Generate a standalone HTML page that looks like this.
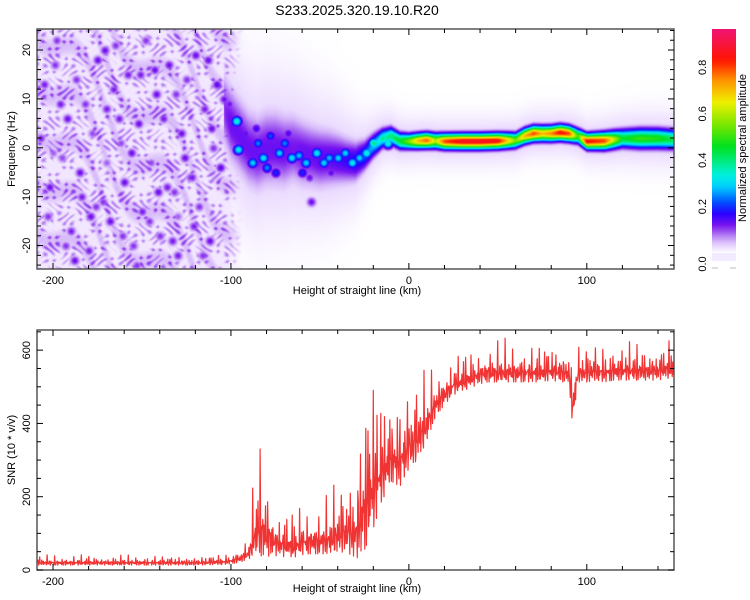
<!DOCTYPE html>
<html><head><meta charset="utf-8"><style>
body{margin:0;background:#fff;width:750px;height:600px;overflow:hidden;font-family:"Liberation Sans",sans-serif}
#wrap{position:relative;width:750px;height:600px}
canvas{position:absolute}
svg{position:absolute;left:0;top:0}
text{font-family:"Liberation Sans",sans-serif;fill:#000}
</style></head><body>
<div id="wrap">
<canvas id="hm" width="637" height="240" style="left:37px;top:29px"></canvas>
<svg id="sv" width="750" height="600"></svg>
</div>
<script>
// ---- data ----
const xDomain=[-209,149];
const fDomain=[-24.8,24.3];
const snrDomain=[0,655];
const xTicks=[-200,-100,0,100];
const fTicks=[-20,-10,0,10,20];
const snrTicks=[0,200,400,600];
const cbTicks=[0.0,0.2,0.4,0.6,0.8];
const ridgeH=[-105,-100,-95,-90,-85,-80,-75,-70,-65,-60,-55,-50,-45,-40,-35,-30,-25,-20,-15,-10,-5,0,5,10,15,20,30,40,50,60,65,70,75,80,85,90,95,100,110,120,130,140,150];
const ridgeF=[9,5,2.5,0,-1,0,0,-0.5,0,-1,-1.5,-2,-2,-2.2,-2.5,-2.7,-1.5,0.5,2,2.5,1.5,1.4,1.5,1.6,1.5,1.4,1.4,1.4,1.5,1.6,2.5,3,3,3,3.2,3,2.5,1.4,1.5,2,2,2,1.8];
const ridgeA=[0.1,0.13,0.13,0.13,0.13,0.13,0.13,0.13,0.12,0.13,0.13,0.14,0.14,0.15,0.16,0.18,0.22,0.28,0.35,0.4,0.45,0.55,0.7,0.78,0.6,0.8,0.88,0.88,0.86,0.55,0.7,0.8,0.7,0.75,0.85,0.8,0.5,0.85,0.8,0.45,0.5,0.48,0.42];
const ridgeW=[5,5,5,5,5,5,5,4.8,4.6,4.4,4.2,4,3.8,3.4,3,2.6,2,1.6,1.3,1.2,1.1,1,1,1,1,1,1,1,1,1,1,1,1,1,1,1,1,1,1.1,1.2,1.3,1.3,1.3];
const spotH=[-97,-96,-88,-85,-82,-78,-73,-70,-66,-62,-58,-52,-48,-45,-40,-36,-32,-28,-24,-20,-15,-12,-75,-80,-60,-92,-86,-68,-56,-44];
const spotF=[5.5,-0.3,-3,1,-2,2.5,-1,1,-2,-1.5,-3,-1,-3,-2,-2,-1,-3,-2,-1,1,2,1,-5,-4,-5,3,4,3,-6,-5];
const spotA=[0.35,0.33,0.3,0.25,0.32,0.22,0.3,0.25,0.32,0.28,0.3,0.33,0.3,0.28,0.3,0.3,0.33,0.3,0.35,0.4,0.4,0.35,0.2,0.25,0.2,0.14,0.16,0.15,0.13,0.14];
const noiseH=[-205,-202,-198,-195,-192,-190,-187,-185,-182,-180,-178,-175,-172,-170,-168,-165,-162,-160,-158,-155,-152,-150,-148,-145,-142,-140,-138,-135,-132,-130,-128,-125,-122,-120,-118,-115,-112,-110,-108,-106,-203,-196,-188,-176,-166,-156,-146,-136,-126,-116,-199,-184,-171,-161,-151,-141,-131,-121,-111,-104,-207,-193,-179,-163,-153,-143,-133,-123,-113,-101,-55,-40,-130,-200,-170];
const noiseF=[13,-8,22,-2,6,-17,14,-5,9,-21,3,18,-11,8,-15,21,1,-7,15,-20,5,-13,22,-3,11,-18,6,17,-9,-22,3,14,-6,19,-12,8,-19,0,13,-4,-14,9,-23,-12,12,-1,-15,-8,-2,-22,17,-10,20,-18,15,-9,11,-16,4,10,2,-20,-14,6,-24,16,-19,-6,18,9,-11,-5,-14,-1,-3];
const noiseA=[0.11,0.12,0.1,0.09,0.12,0.11,0.1,0.12,0.1,0.11,0.09,0.12,0.1,0.11,0.12,0.1,0.09,0.12,0.11,0.1,0.12,0.11,0.1,0.09,0.12,0.1,0.11,0.12,0.1,0.11,0.12,0.1,0.11,0.12,0.1,0.11,0.12,0.1,0.13,0.13,0.1,0.11,0.12,0.1,0.11,0.12,0.1,0.11,0.12,0.1,0.1,0.11,0.12,0.1,0.11,0.12,0.1,0.11,0.12,0.12,0.11,0.1,0.12,0.11,0.1,0.12,0.11,0.1,0.12,0.12,0.12,0.1,0.08,0.08,0.08];
const snrH=[-210,-205,-200,-195,-190,-185,-180,-175,-170,-165,-160,-155,-150,-145,-140,-135,-130,-125,-120,-115,-110,-105,-100,-95,-90,-85,-80,-75,-70,-65,-60,-55,-50,-45,-40,-35,-30,-25,-20,-15,-10,-5,0,5,10,15,20,25,30,35,40,45,50,55,60,65,70,75,80,85,90,92,95,100,105,110,115,120,125,130,135,140,145,150];
const snrMid=[20,20,20,20,20,20,20,20,20,20,20,20,20,20,20,20,20,20,20,20,22,22,25,32,45,120,100,75,70,65,75,80,80,85,95,110,100,180,230,270,310,300,340,360,400,455,480,505,515,525,535,540,540,540,540,540,540,540,545,540,540,440,540,540,545,540,545,545,545,545,545,545,550,550];
const snrSpread=[15,15,15,15,15,15,15,15,15,15,15,15,15,15,15,15,15,15,15,15,16,16,18,24,32,180,140,80,75,70,75,80,80,90,110,130,160,280,260,180,150,160,140,130,110,80,65,60,60,60,60,60,60,60,60,60,60,60,60,60,60,110,60,60,60,60,60,60,60,60,60,60,60,60];

const P1={l:37,r:674,t:29,b:269}, P2={l:37,r:674,t:330,b:570};
const sx=h=>P1.l+(h-xDomain[0])/(xDomain[1]-xDomain[0])*(P1.r-P1.l);
const sf=f=>P1.b-(f-fDomain[0])/(fDomain[1]-fDomain[0])*(P1.b-P1.t);
const ss=v=>P2.b-(v-snrDomain[0])/(snrDomain[1]-snrDomain[0])*(P2.b-P2.t);
function interp(xs,ys,x){if(x<=xs[0])return ys[0];for(let i=1;i<xs.length;i++){if(x<=xs[i]){const t=(x-xs[i-1])/(xs[i]-xs[i-1]);return ys[i-1]+t*(ys[i]-ys[i-1]);}}return ys[ys.length-1];}

const cstops=[[0,255,255,255],[0.02,240,228,255],[0.05,215,185,250],[0.09,160,90,240],[0.12,120,20,240],[0.17,40,0,255],[0.22,0,80,255],[0.28,0,200,255],[0.33,0,240,230],[0.40,0,235,120],[0.46,0,225,30],[0.55,120,230,0],[0.65,240,240,0],[0.75,255,140,0],[0.83,255,20,0],[0.97,240,20,120]];
function cmap(v){if(v<=0)return[255,255,255];for(let i=1;i<cstops.length;i++){if(v<=cstops[i][0]){const a=cstops[i-1],b=cstops[i],t=(v-a[0])/(b[0]-a[0]);return[a[1]+t*(b[1]-a[1]),a[2]+t*(b[2]-a[2]),a[3]+t*(b[3]-a[3])];}}const l=cstops[cstops.length-1];return[l[1],l[2],l[3]];}

(function(){
const cv=document.getElementById('hm'),ctx=cv.getContext('2d');
const W=cv.width,H=cv.height,img=ctx.createImageData(W,H);
const blobs=[];
for(let i=0;i<noiseH.length;i++)blobs.push([sx(noiseH[i])-P1.l,sf(noiseF[i])-P1.t,noiseA[i]+0.01,3.6]);
for(let i=0;i<spotH.length;i++)blobs.push([sx(spotH[i])-P1.l,sf(spotF[i])-P1.t,spotA[i],4]);
for(let x=0;x<W;x++){
 const h=xDomain[0]+(x+0.5)/W*(xDomain[1]-xDomain[0]);
 const inNoise=h<-102?1:(h<-92?(-92-h)/10:0);
 const rf=interp(ridgeH,ridgeF,h),ra=interp(ridgeH,ridgeA,h),rw=interp(ridgeH,ridgeW,h);
 const ryc=sf(rf)-P1.t, rwp=rw*(P1.b-P1.t)/(fDomain[1]-fDomain[0]);
 for(let y=0;y<H;y++){
  let v=0;
  if(inNoise>0){
   const t=Math.sin(x*0.45+Math.sin(y*0.3)*2)*Math.sin(y*0.5+Math.sin(x*0.21)*2.3);
   const t2=Math.sin(x*0.17-y*0.13+Math.cos(x*0.07)*3);
   v=inNoise*(0.018+0.06*Math.max(0,t)+0.03*Math.max(0,t2));}
  if(h>-104){const d=(y-ryc)/rwp;v=Math.max(v,ra*Math.exp(-d*d/2));
   const d2=(y-ryc)/(rwp*2.0+6);v=Math.max(v,0.035*Math.exp(-d2*d2/2));}
  for(const b of blobs){const dx=x-b[0],dy=y-b[1];if(dx>13||dx<-13||dy>13||dy<-13)continue;const e=b[2]*Math.exp(-(dx*dx+dy*dy)/(2*b[3]*b[3]));if(e>v)v=e;}
  const c=cmap(v),k=(y*W+x)*4;img.data[k]=c[0];img.data[k+1]=c[1];img.data[k+2]=c[2];img.data[k+3]=255;
 }}
ctx.putImageData(img,0,0);
})();

const NS='http://www.w3.org/2000/svg',sv=document.getElementById('sv');
function el(t,a,txt){const e=document.createElementNS(NS,t);for(const k in a)e.setAttribute(k,a[k]);if(txt!==undefined)e.textContent=txt;sv.appendChild(e);return e;}

const title=el('text',{x:357,y:15,'text-anchor':'middle','font-size':14},'S233.2025.320.19.10.R20');



(function(){
 let d='';let i=0;
 for(let h=xDomain[0];h<=xDomain[1];h+=0.3,i++){
  const m=interp(snrH,snrMid,h),s=interp(snrH,snrSpread,h);
  let u=Math.sin(i*2.71)*Math.cos(i*0.93+1.3)+0.35*Math.sin(i*1.37+0.5);
  if(u>0)u=u*u*1.1;else u=-Math.min(0.8,-u)*0.7;
  const v=Math.max(1,m+s*u*0.8);
  d+=(i?'L':'M')+sx(h).toFixed(1)+' '+ss(v).toFixed(1);
 }
 const p=el('path',{d:d,fill:'none',stroke:'#f03434','stroke-width':1.2,'stroke-linejoin':'round'});
 
 
})();

function frame(P,name){const r=el('rect',{x:P.l,y:P.t,width:P.r-P.l,height:P.b-P.t,fill:'none',stroke:'#555','stroke-width':1.5});
 
 }
frame(P1,'top-plot-frame');frame(P2,'bottom-plot-frame');

function xAxis(P,labelY,name){
 for(let h=-200;h<=140;h+=20){const x=sx(h),maj=h%100===0,L=maj?6:4;
  el('line',{x1:x,x2:x,y1:P.b,y2:P.b-L,stroke:'#000'});el('line',{x1:x,x2:x,y1:P.t,y2:P.t+L,stroke:'#000'});}
 xTicks.forEach(h=>{const t=el('text',{x:sx(h),y:P.b+15,'text-anchor':'middle','font-size':11},String(h));
  
  });
 const t=el('text',{x:357,y:labelY,'text-anchor':'middle','font-size':11},'Height of straight line (km)');
 
 
}
xAxis(P1,294,'top-x-axis-title');xAxis(P2,592,'bottom-x-axis-title');

for(let f=-24;f<=24;f+=2){const y=sf(f),L=f%10===0?6:4;
 el('line',{x1:P1.l,x2:P1.l+L,y1:y,y2:y,stroke:'#000'});el('line',{x1:P1.r,x2:P1.r-L,y1:y,y2:y,stroke:'#000'});}
fTicks.forEach(f=>{const y=sf(f);const t=el('text',{x:0,y:0,transform:`translate(30,${y}) rotate(-90)`,'text-anchor':'middle','font-size':11},String(f));
 
 });
const yt1=el('text',{x:0,y:0,transform:'translate(15,149) rotate(-90)','text-anchor':'middle','font-size':11},'Frequency (Hz)');



for(let v=0;v<=650;v+=50){const y=ss(v),L=v%200===0?6:4;
 el('line',{x1:P2.l,x2:P2.l+L,y1:y,y2:y,stroke:'#000'});el('line',{x1:P2.r,x2:P2.r-L,y1:y,y2:y,stroke:'#000'});}
snrTicks.forEach(v=>{const y=ss(v);const t=el('text',{x:0,y:0,transform:`translate(30,${y}) rotate(-90)`,'text-anchor':'middle','font-size':11},String(v));
 
 });
const yt2=el('text',{x:0,y:0,transform:'translate(15,450) rotate(-90)','text-anchor':'middle','font-size':11},'SNR (10 * v/v)');



(function(){
 const cb0=253,cbk=232;
 const defs=el('defs',{});const g=document.createElementNS(NS,'linearGradient');g.setAttribute('id','cbg');g.setAttribute('x1','0');g.setAttribute('y1','1');g.setAttribute('x2','0');g.setAttribute('y2','0');defs.appendChild(g);
 const top=(cb0-29)/cbk;
 for(let i=0;i<=40;i++){const v=i/40*top;const c=cmap(v);const s=document.createElementNS(NS,'stop');s.setAttribute('offset',(v/top).toFixed(3));s.setAttribute('stop-color',`rgb(${c.map(Math.round).join(',')})`);g.appendChild(s);}
 const r=el('rect',{x:712,y:29,width:24,height:cb0-29,fill:'url(#cbg)'});
 
 
 el('rect',{x:712,y:cb0,width:24,height:8,fill:'#f2eaff'});
 el('line',{x1:712,x2:718,y1:268,y2:268,stroke:'#bbb'});el('line',{x1:730,x2:736,y1:268,y2:268,stroke:'#bbb'});
 cbTicks.forEach(v=>{const y=v===0?264:cb0-v*cbk;const t=el('text',{x:0,y:0,transform:`translate(706,${y}) rotate(-90)`,'text-anchor':'middle','font-size':11},v.toFixed(1));
  
  });
 const t=el('text',{x:0,y:0,transform:'translate(746,148) rotate(-90)','text-anchor':'middle','font-size':11},'Normalized spectral amplitude');
 
 
})();
</script>
</body></html>
